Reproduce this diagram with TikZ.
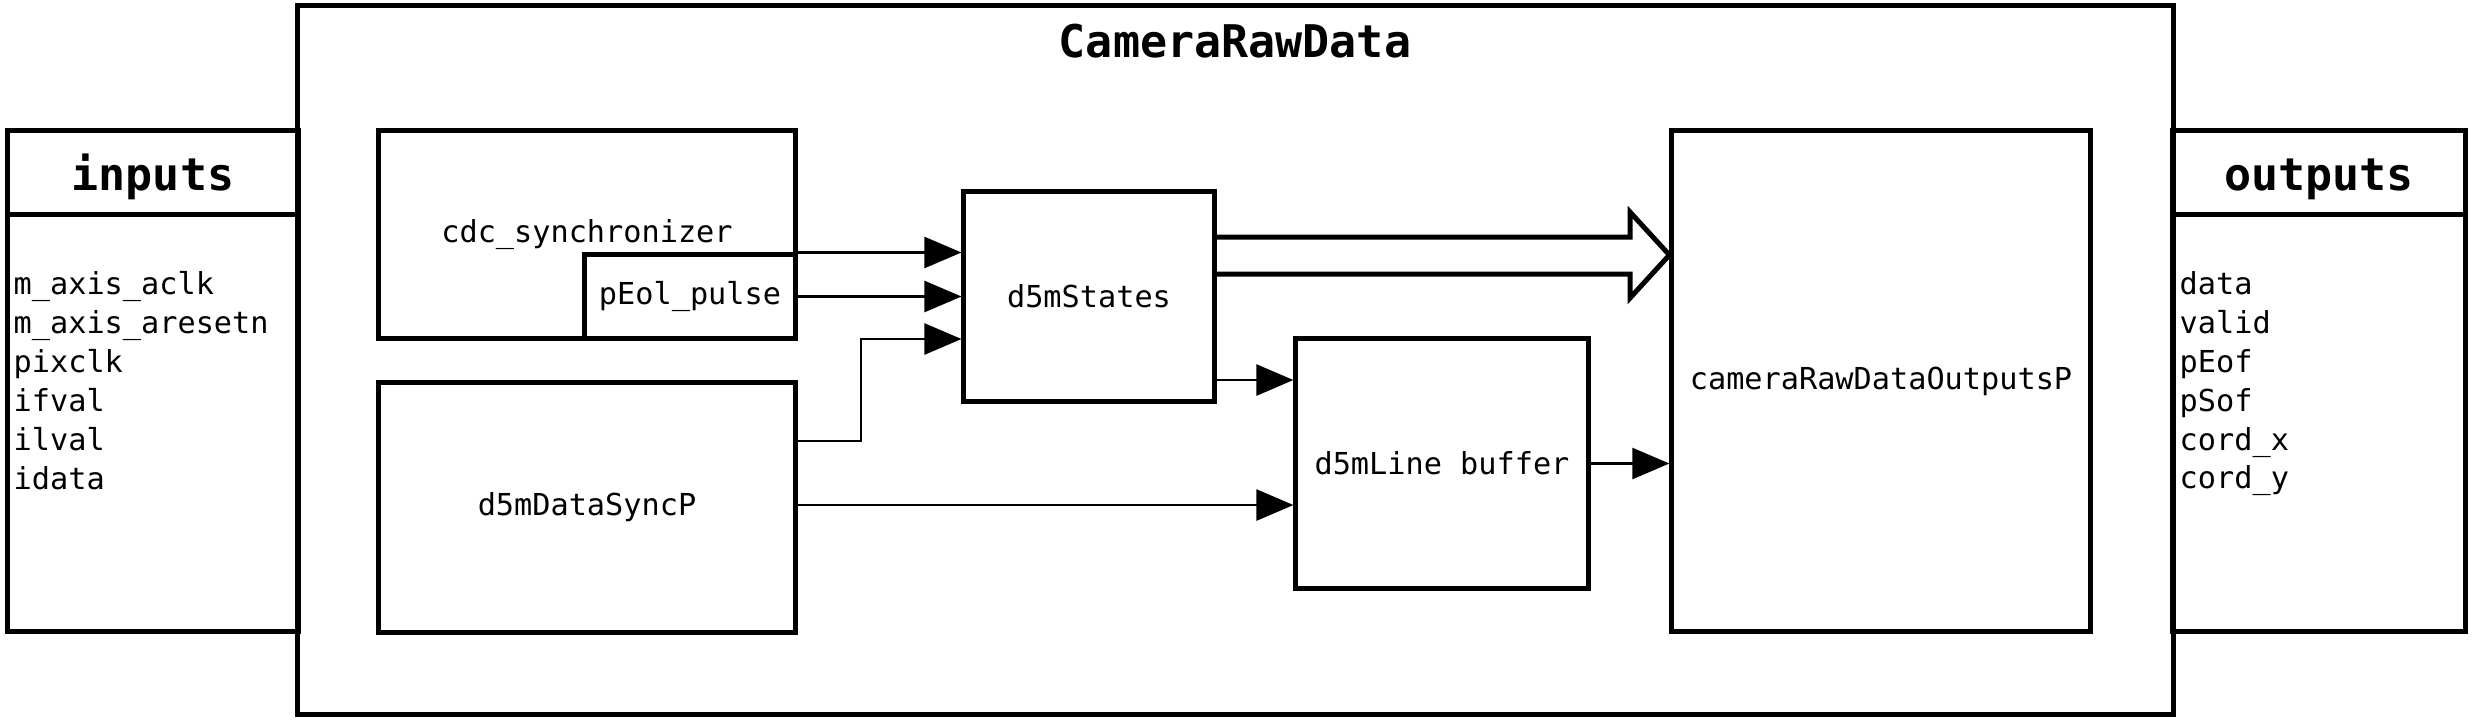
\documentclass[tikz,border=0pt]{standalone}
\usepackage{fontspec}
\usetikzlibrary{arrows.meta,calc}
\newfontfamily\dmono{DejaVu Sans Mono}
\begin{document}
\begin{tikzpicture}[x=0.01cm,y=-0.01cm,
  blk/.style={draw,line width=0.05cm,inner sep=0pt,font=\dmono\fontsize{8.6}{11}\selectfont},
  hdr/.style={inner sep=0pt,font=\dmono\bfseries\fontsize{12.8}{15}\selectfont},
  lst/.style={inner sep=0pt,align=left,font=\dmono\fontsize{8.6}{11.05}\selectfont},
  sep/.style={line width=0.05cm},
  conn/.style={line width=0.025cm,-{Triangle[length=0.37cm,width=0.31cm]}},
  fat/.style={line width=0.05cm,line join=miter}]
\useasboundingbox (0,0) rectangle (2473,723);
% main container
\node[blk,minimum width=18.75cm,minimum height=7.08cm] (main) at (1235.5,360) {};
\node[hdr,anchor=base] (title) at (1235,57) {CameraRawData};
% inputs
\node[blk,minimum width=2.90cm,minimum height=5.00cm] (inp) at (153,381) {};
\draw[sep] (inp.west |- 0,214) -- (inp.east |- 0,214);
\node[hdr,anchor=base] (inph) at (153,190) {inputs};
\node[lst,anchor=north west] (inpl) at (13,271) {m\_axis\_aclk\\m\_axis\_aresetn\\pixclk\\ifval\\ilval\\idata};
% outputs
\node[blk,minimum width=2.92cm,minimum height=5.00cm] (outp) at (2319,381) {};
\draw[sep] (outp.west |- 0,214) -- (outp.east |- 0,214);
\node[hdr,anchor=base] (outph) at (2319,190) {outputs};
\node[lst,anchor=north west] (outpl) at (2179,271) {data\\valid\\pEof\\pSof\\cord\_x\\cord\_y};
% blocks
\node[blk,minimum width=4.16cm,minimum height=2.07cm] (cdc) at (587,234.5) {cdc\_synchronizer};
\node[blk,minimum width=2.10cm,minimum height=0.83cm] (peol) at (690,296.5) {pEol\_pulse};
\node[blk,minimum width=4.16cm,minimum height=2.49cm] (sync) at (587,507.5) {d5mDataSyncP};
\node[blk,minimum width=2.50cm,minimum height=2.09cm] (states) at (1089,296.5) {d5mStates};
\node[blk,minimum width=2.92cm,minimum height=2.49cm] (line) at (1442,463.5) {d5mLine buffer};
\node[blk,minimum width=4.18cm,minimum height=5.00cm] (cam) at (1881,381) {cameraRawDataOutputsP};
% connectors
\draw[conn] (peol.north east) -- (peol.north east -| states.west);
\draw[conn] (peol.east) -- (peol.east -| states.west);
\coordinate (bendA) at (861,441);
\coordinate (bendB) at (861,339);
\draw[conn] (sync.east |- bendA) -- (bendA) -- (bendB) -- (bendB -| states.west);
\coordinate (syncout) at (0,505);
\draw[conn] (sync.east |- syncout) -- (line.west |- syncout);
\coordinate (stout) at (0,380);
\draw[conn] (states.east |- stout) -- (line.west |- stout);
\draw[conn] (line.east) -- (line.east -| cam.west);
% hollow bus arrow
\draw[fat] (states.east |- 0,237) -- (1630,237) -- (1630,212) -- (cam.west |- 0,255) -- (1630,298) -- (1630,274) -- (states.east |- 0,274);
\end{tikzpicture}
\end{document}
